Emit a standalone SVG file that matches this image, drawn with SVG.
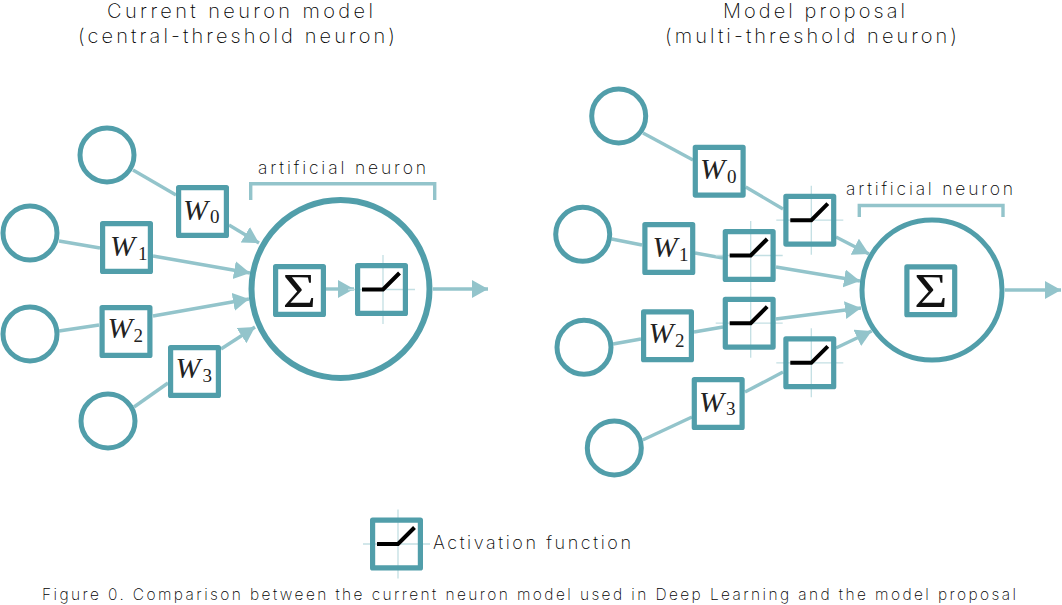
<svg xmlns="http://www.w3.org/2000/svg" width="1062" height="605" viewBox="0 0 1062 605">
<style>
.c{fill:#fff;stroke:#519eaa;stroke-width:5}
.big{stroke-width:6}
.b{fill:#fff;stroke:none}
.s{fill:none;stroke:#519eaa;stroke-width:5.2;stroke-linejoin:round}
.l{fill:none;stroke:#93c4cb;stroke-width:3.4}
.a{marker-end:url(#arr)}
.x{stroke:#c3dfe3;stroke-width:1.3;fill:none}
.f{fill:none;stroke:#000;stroke-width:4}
.t{font-family:"Inter","Lato",sans-serif;font-weight:200;fill:#000}
.m{font-family:"Liberation Serif",serif;font-style:italic;font-size:30px;fill:#222}
.n{font-family:"Liberation Serif",serif;font-size:19px;fill:#222}
.g{font-family:"Liberation Serif",serif;font-size:52px;fill:#111;text-anchor:middle}
</style>
<defs>
<marker id="arr" markerUnits="userSpaceOnUse" markerWidth="18" markerHeight="20" refX="16" refY="9" orient="auto"><path d="M0 0L16 9L0 18Z" fill="#93c4cb"/></marker>
<g id="actf">
<rect class="b" x="2.6" y="2.6" width="47.800" height="47.800"/>
<path class="x" d="M-7 26.500H60M28 -8V61"/>
<rect class="s" x="2.6" y="2.6" width="47.800" height="47.800"/>
<path class="f" d="M7 26.500H28L44.500 10"/>
</g>
<g id="box">
<rect class="b" x="2.6" y="2.6" width="47.800" height="47.800"/>
<rect class="s" x="2.6" y="2.6" width="47.800" height="47.800"/>
</g>
</defs>
<g id="left-neuron"><circle class="c big" cx="340.500" cy="289" r="89"/></g>
<g id="right-neuron"><circle class="c" cx="932" cy="290" r="70"/></g>
<g id="connectors">
<path class="l" d="M133 170L176 195"/>
<path class="l a" d="M229 225L259 243"/>
<path class="l" d="M59 241L100 248"/>
<path class="l a" d="M153 256L250 273"/>
<path class="l" d="M59 331L99 325"/>
<path class="l a" d="M153 316L249 299"/>
<path class="l" d="M134 407L168 383"/>
<path class="l a" d="M221 349L255 327"/>
<path class="l a" d="M326 289H354"/>
<path class="l a" d="M433 289H488"/>
<path class="l" d="M250.700 200V183.700H434.700V200"/>
<path class="l" d="M643 133L693 160"/>
<path class="l" d="M745.700 187L783 209"/>
<path class="l a" d="M836 237L869 254"/>
<path class="l" d="M611.700 239L642 245"/>
<path class="l" d="M695 253L723 258"/>
<path class="l a" d="M776 267L860 281"/>
<path class="l" d="M613 344L641 339"/>
<path class="l" d="M694 332L723 327"/>
<path class="l a" d="M776 319L861 308"/>
<path class="l" d="M642.700 440L692 417"/>
<path class="l" d="M745 392L783 372"/>
<path class="l a" d="M836 348L871.700 331"/>
<path class="l a" d="M1005 290H1061"/>
<path class="l" d="M859.300 217V205.500H1003V217"/>
</g>
<g id="title-left" class="t">
<text x="107" y="18" font-size="20" textLength="266">Current neuron model</text>
<text x="78" y="42.500" font-size="20" textLength="317">(central-threshold neuron)</text>
</g>
<g id="title-right" class="t">
<text x="723" y="18" font-size="20" textLength="182">Model proposal</text>
<text x="665" y="42.500" font-size="20" textLength="292">(multi-threshold neuron)</text>
</g>
<text id="label-left" class="t" x="258" y="174" font-size="17.500" textLength="168">artificial neuron</text>
<text id="label-right" class="t" x="846" y="195" font-size="17.500" textLength="167">artificial neuron</text>
<g id="left-in0"><circle class="c" cx="107" cy="155" r="27"/></g>
<g id="left-in1"><circle class="c" cx="30" cy="233" r="27"/></g>
<g id="left-in2"><circle class="c" cx="30" cy="334" r="27"/></g>
<g id="left-in3"><circle class="c" cx="108" cy="421" r="27"/></g>
<g id="left-w0"><use href="#box" x="176" y="185"/><text class="m" x="183" y="219.500">W</text><text class="n" x="210" y="223">0</text></g>
<g id="left-w1"><use href="#box" x="100" y="221"/><text class="m" x="110" y="256">W</text><text class="n" x="138" y="260">1</text></g>
<g id="left-w2"><use href="#box" x="99.500" y="305"/><text class="m" x="107.500" y="338">W</text><text class="n" x="133.500" y="341.500">2</text></g>
<g id="left-w3"><use href="#box" x="168" y="345"/><text class="m" x="175.500" y="378">W</text><text class="n" x="202.500" y="382">3</text></g>
<g id="left-sum"><use href="#box" x="273" y="264"/><text class="g" transform="translate(299.500 306.500) scale(1.1 .94)">Σ</text></g>
<g id="left-act"><use href="#actf" x="355" y="263"/></g>
<g id="right-in0"><circle class="c" cx="618.700" cy="116" r="27"/></g>
<g id="right-in1"><circle class="c" cx="582.700" cy="234.300" r="27"/></g>
<g id="right-in2"><circle class="c" cx="584" cy="347.300" r="27"/></g>
<g id="right-in3"><circle class="c" cx="614.300" cy="448" r="27"/></g>
<g id="right-w0"><use href="#box" x="692.700" y="144.700"/><text class="m" x="700" y="179.300">W</text><text class="n" x="727" y="182.500">0</text></g>
<g id="right-w1"><use href="#box" x="642.300" y="222"/><text class="m" x="652.500" y="256.700">W</text><text class="n" x="679" y="261">1</text></g>
<g id="right-w2"><use href="#box" x="641" y="309.300"/><text class="m" x="648.500" y="343">W</text><text class="n" x="675" y="346.500">2</text></g>
<g id="right-w3"><use href="#box" x="691.700" y="377"/><text class="m" x="699" y="411.700">W</text><text class="n" x="726" y="414.500">3</text></g>
<g id="right-act0"><use href="#actf" x="783.300" y="193.700"/></g>
<g id="right-act1"><use href="#actf" x="722.700" y="229"/></g>
<g id="right-act2"><use href="#actf" x="722.700" y="296.700"/></g>
<g id="right-act3"><use href="#actf" x="783.300" y="336.300"/></g>
<g id="right-sum"><use href="#box" x="904.300" y="264.300"/><text class="g" transform="translate(930.800 306.500) scale(1.1 .94)">Σ</text></g>
<g id="legend"><use href="#actf" x="370" y="517.500"/><text class="t" x="433" y="549" font-size="18" textLength="198">Activation function</text></g>
<text id="caption" class="t" x="42" y="600" font-size="15.500" textLength="974">Figure 0. Comparison between the current neuron model used in Deep Learning and the model proposal</text>
</svg>
